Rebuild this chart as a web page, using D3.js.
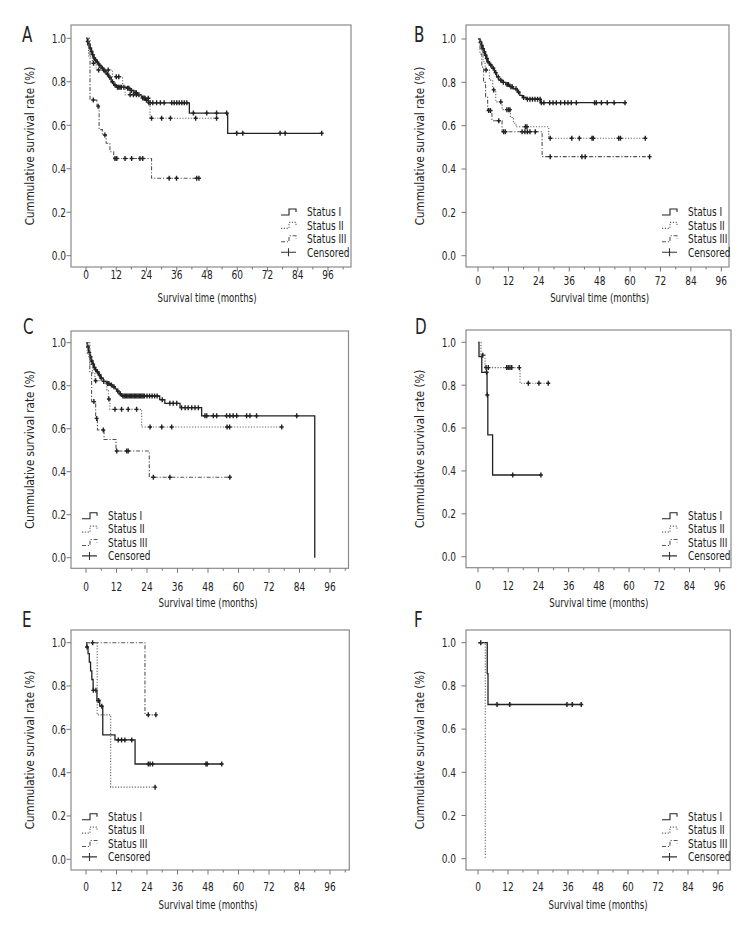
<!DOCTYPE html>
<html>
<head>
<meta charset="utf-8">
<script src="https://cdn.jsdelivr.net/npm/d3@7"></script>
<style>
  html, body { margin: 0; padding: 0; background: #fff; }
  svg { display: block; }
  text { font-family: "DejaVu Sans Condensed", "Liberation Sans", sans-serif; fill: #222; }
</style>
</head>
<body>
<script>
// ---- axis ticks & labels ----
const xTicks = [0, 12, 24, 36, 48, 60, 72, 84, 96]
const xMinor = [6, 18, 30, 42, 54, 66, 78, 90, 102]
const yTicks = [0, 0.2, 0.4, 0.6, 0.8, 1.0]
const legendLabels = ['Status I', 'Status II', 'Status III', 'Censored']
const xTitle = 'Survival time (months)'
const yTitle = 'Cummulative survival rate (%)'

// ---- data: [time (months), survival after drop], censored times ----
// A
const A1_steps = [[0.5, 0.985], [1.0, 0.97], [1.5, 0.955], [2.0, 0.94], [2.5, 0.925], [3.0, 0.91], [3.5, 0.9], [4.2, 0.89], [5.0, 0.875], [6.0, 0.862], [7.0, 0.85], [8.0, 0.835], [9.0, 0.82], [10.0, 0.8], [11.0, 0.785], [12.0, 0.775], [16.0, 0.77], [17.5, 0.76], [19.0, 0.75], [20.5, 0.74], [22.0, 0.725], [23.5, 0.715], [24.7, 0.703], [41.0, 0.656], [56.2, 0.563]]
const A1_cens = [0.7, 1.2, 1.7, 2.2, 2.7, 3.2, 3.8, 4.5, 5.5, 6.5, 7.5, 8.5, 9.5, 10.5, 11.5, 12.5, 13, 13.5, 14, 15, 16.5, 17, 18, 19.5, 20, 21, 22.5, 23, 24, 25, 25.5, 26.5, 28, 29.5, 31, 34, 35, 36, 37, 38, 39, 40, 42.6, 47.9, 51.8, 55.8, 59.8, 62.2, 77, 79, 93.5]
const A2_steps = [[1.0, 0.915], [2.5, 0.885], [4.0, 0.854], [10.5, 0.823], [14.5, 0.78], [15.5, 0.74], [22.0, 0.724], [25.4, 0.632]]
const A2_cens = [3, 5, 7, 8.8, 12, 13, 17.5, 18.8, 20, 23.4, 24.7, 26, 30, 33.5, 43.5, 51.8]
const A3_steps = [[1.6, 0.716], [4.3, 0.688], [5.2, 0.58], [6.5, 0.555], [8.0, 0.517], [9.5, 0.478], [11.0, 0.447], [26.0, 0.356]]
const A3_cens = [2.9, 4.8, 7.5, 11.5, 12.2, 15.5, 18.1, 21.4, 22.5, 33, 35.9, 43.9, 44.8]
// B
const B1_steps = [[0.8, 0.985], [1.3, 0.97], [1.8, 0.955], [2.3, 0.94], [2.8, 0.925], [3.3, 0.91], [3.8, 0.895], [4.5, 0.88], [5.5, 0.865], [6.5, 0.845], [7.3, 0.825], [8.2, 0.81], [9.5, 0.8], [11, 0.79], [12.5, 0.78], [14, 0.77], [15.5, 0.755], [16.5, 0.74], [17.5, 0.73], [19, 0.722], [24.6, 0.706]]
const B1_cens = [1, 1.5, 2, 2.5, 3, 3.5, 4, 5, 6, 7, 8, 9, 10, 11.5, 12, 13, 13.5, 15, 16, 18, 19.5, 20.5, 21.5, 22.5, 23.5, 24.5, 25, 26, 28.3, 29.6, 30.9, 32.6, 34.2, 35.5, 36.8, 38.8, 46, 46.7, 48.7, 51, 53.7, 58]
const B2_steps = [[1.0, 0.95], [2.0, 0.895], [2.8, 0.857], [4.5, 0.81], [5.8, 0.765], [7.0, 0.71], [9.5, 0.674], [12.8, 0.638], [14.0, 0.611], [15.0, 0.595], [27.9, 0.542]]
const B2_cens = [3.2, 6.2, 9.0, 11.4, 12.1, 12.6, 18.7, 19.3, 28.5, 37, 40, 45, 45.5, 55.5, 56.2, 66]
const B3_steps = [[0.8, 0.93], [1.5, 0.87], [2.2, 0.8], [3.0, 0.734], [3.8, 0.67], [5.5, 0.623], [9.5, 0.572], [25.3, 0.457]]
const B3_cens = [4.2, 4.9, 8.2, 10.1, 10.8, 17.4, 18.5, 19.5, 20.5, 22.6, 28.5, 41, 42.3, 67.7]
// C
const C1_steps = [[0.5, 0.98], [1.0, 0.955], [1.5, 0.935], [2.0, 0.915], [2.5, 0.9], [3.0, 0.885], [3.5, 0.875], [4.2, 0.865], [5.0, 0.85], [5.8, 0.835], [6.8, 0.82], [8.0, 0.81], [9.4, 0.803], [10.5, 0.795], [11.5, 0.785], [12.1, 0.775], [13.0, 0.762], [14.0, 0.752], [29.0, 0.735], [31.0, 0.718], [37.0, 0.698], [45.5, 0.66], [90.0, 0.0]]
const C1_cens = [0.8, 1.3, 1.8, 2.3, 2.8, 3.3, 3.8, 4.5, 5.3, 6, 7, 8.5, 9, 10, 11, 12.5, 13.5, 14.5, 15, 15.5, 16, 16.5, 17, 17.5, 18, 18.5, 19, 19.5, 20, 20.5, 21, 21.5, 22, 22.5, 23, 24, 25, 26, 27, 28, 30, 33, 34.3, 35.7, 37.6, 39, 40.2, 41.6, 42.9, 44.2, 46.8, 47.5, 50.1, 51.4, 55.3, 56.6, 57.9, 59.3, 63.2, 64.5, 67.1, 82.9]
const C2_steps = [[0.5, 0.95], [1.5, 0.9], [2.5, 0.86], [3.5, 0.823], [8.2, 0.78], [8.8, 0.738], [9.4, 0.69], [21.9, 0.608]]
const C2_cens = [3.8, 9.0, 11.4, 14, 16.6, 19.9, 25.2, 29.8, 33.7, 55.5, 56.5, 77]
const C3_steps = [[1.5, 0.86], [2.2, 0.726], [3.8, 0.648], [4.5, 0.594], [7.1, 0.55], [11.8, 0.496], [24.9, 0.374]]
const C3_cens = [3.1, 4.2, 6.8, 12.1, 16, 16.6, 26.5, 33, 56.6]
// D
const D1_steps = [[0.4, 0.933], [1.5, 0.86], [3.6, 0.754], [3.9, 0.568], [5.8, 0.381]]
const D1_cens = [3.4, 3.7, 13.8, 25]
const D2_steps = [[1.2, 0.94], [2.8, 0.882], [16.7, 0.809]]
const D2_cens = [1.9, 3.2, 4.1, 11.4, 12.0, 12.7, 13.4, 16.4, 20, 24.2, 27.9]
// E
const E1_steps = [[0.3, 0.98], [0.8, 0.95], [1.3, 0.91], [1.8, 0.87], [2.3, 0.83], [2.8, 0.78], [4.3, 0.733], [5.4, 0.707], [6.6, 0.574], [11.4, 0.551], [19.3, 0.44]]
const E1_cens = [0.4, 2.9, 3.9, 4.8, 5.0, 6.2, 12.7, 14, 15.3, 18, 24.5, 25.2, 26.2, 47.2, 47.7, 53.4]
const E2_steps = [[4.4, 0.667], [9.7, 0.333]]
const E2_cens = [27.2]
const E3_steps = [[23.2, 0.667]]
const E3_cens = [2.6, 24.5, 27.5]
// F
const F1_steps = [[3.7, 0.857], [4.0, 0.714]]
const F1_cens = [1.1, 7.6, 12.7, 35.6, 37.7, 41.3]
const F2_steps = [[2.9, 0.0]]
const F2_cens = []

// ---- line styles for Status I, II, III ----
const styles = [
  { stroke: '#222', width: 1.3, dash: null },
  { stroke: '#666', width: 1.1, dash: '1.2,1.6' },
  { stroke: '#555', width: 1.1, dash: '4,1.8,1.2,1.8' }
]

// ---- panel layout ----
const panels = [
  { letter: 'A', lx: 22, ly: 42, frame: [71, 25, 351, 267], xr: [86, 328], yr: [255.7, 38.3], tlx: 66, ytx: 29.5, xly: 279, xty: 302,
    leg: [281, 212], series: [[A1_steps, A1_cens], [A2_steps, A2_cens], [A3_steps, A3_cens]] },
  { letter: 'B', lx: 414, ly: 42, frame: [466, 25, 729, 267], xr: [478, 721.3], yr: [255.7, 39], tlx: 456, ytx: 420, xly: 285, xty: 301.5,
    leg: [662, 212], series: [[B1_steps, B1_cens], [B2_steps, B2_cens], [B3_steps, B3_cens]] },
  { letter: 'C', lx: 23, ly: 334, frame: [71, 331, 348.5, 568.3], xr: [86, 330], yr: [557.7, 342.7], tlx: 66, ytx: 29.5, xly: 590.5, xty: 607,
    leg: [82, 515.7], series: [[C1_steps, C1_cens], [C2_steps, C2_cens], [C3_steps, C3_cens]] },
  { letter: 'D', lx: 415, ly: 334, frame: [466, 330, 731, 567.7], xr: [478, 719.7], yr: [556.7, 342.3], tlx: 456, ytx: 420, xly: 590, xty: 607,
    leg: [662, 515.7], series: [[D1_steps, D1_cens], [D2_steps, D2_cens]] },
  { letter: 'E', lx: 22, ly: 627, frame: [71, 630, 349.3, 870], xr: [86, 330], yr: [859.3, 642.7], tlx: 66, ytx: 29.5, xly: 890.5, xty: 909,
    leg: [82, 816.7], series: [[E1_steps, E1_cens], [E2_steps, E2_cens], [E3_steps, E3_cens]] },
  { letter: 'F', lx: 414, ly: 627, frame: [466, 630, 730.3, 870], xr: [478, 718], yr: [858.7, 642.7], tlx: 456, ytx: 420, xly: 890.5, xty: 909,
    leg: [662, 816.7], series: [[F1_steps, F1_cens], [F2_steps, F2_cens]] }
]

// horizontal text in the source is squeezed; vertical text is not
const SX = 0.8

const svg = d3.select('body').append('svg')
  .attr('width', 756)
  .attr('height', 936)

// survival value of a step curve at time t
function survAt(steps, t) {
  let s = 1
  for (const [ti, si] of steps) if (t >= ti) s = si
  return s
}

// squeezed text helper
function label(g, x, y, str, size, anchor, dy) {
  return g.append('text')
    .attr('transform', `translate(${x},${y}) scale(${SX},1)`)
    .attr('dy', dy || null)
    .attr('text-anchor', anchor || 'start')
    .attr('font-size', size)
    .text(str)
}

const line = d3.line().curve(d3.curveStepAfter)

panels.forEach(p => {
  const g = svg.append('g')
  const x = d3.scaleLinear().domain([0, 96]).range(p.xr)
  const y = d3.scaleLinear().domain([0, 1]).range(p.yr)
  const [fx0, fy0, fx1, fy1] = p.frame

  // panel letter
  label(g, p.lx, p.ly, p.letter, 21, 'start')

  // frame
  g.append('rect')
    .attr('x', fx0).attr('y', fy0)
    .attr('width', fx1 - fx0).attr('height', fy1 - fy0)
    .attr('fill', 'none')
    .attr('stroke', '#8a8a8a')
    .attr('stroke-width', 1.2)

  // x ticks
  g.selectAll('.xt').data(xTicks).join('line')
    .attr('x1', d => x(d)).attr('x2', d => x(d))
    .attr('y1', fy1).attr('y2', fy1 + 4.5)
    .attr('stroke', '#777').attr('stroke-width', 1)
  g.selectAll('.xm').data(xMinor.filter(d => x(d) < fx1 - 1)).join('line')
    .attr('x1', d => x(d)).attr('x2', d => x(d))
    .attr('y1', fy1).attr('y2', fy1 + 2.5)
    .attr('stroke', '#777').attr('stroke-width', 1)
  xTicks.forEach(d => label(g, x(d), p.xly, d, 12.5, 'middle'))

  // y ticks
  g.selectAll('.yt').data(yTicks).join('line')
    .attr('x1', fx0 - 4.5).attr('x2', fx0)
    .attr('y1', d => y(d)).attr('y2', d => y(d))
    .attr('stroke', '#777').attr('stroke-width', 1)
  yTicks.forEach(d => label(g, p.tlx, y(d), d3.format('.1f')(d), 12.5, 'end', '0.35em'))

  // axis titles
  label(g, (p.xr[0] + p.xr[1]) / 2, p.xty, xTitle, 12, 'middle')
  g.append('text')
    .attr('transform', `translate(${p.ytx},${(fy0 + fy1) / 2}) rotate(-90)`)
    .attr('dy', '0.35em')
    .attr('text-anchor', 'middle')
    .attr('font-size', 11.5)
    .text(yTitle)

  // curves
  p.series.forEach(([steps, cens], i) => {
    const st = styles[i]
    const end = Math.max(steps.length ? steps[steps.length - 1][0] : 0, cens.length ? d3.max(cens) : 0)
    const pts = [[0, 1], ...steps, [end, steps.length ? steps[steps.length - 1][1] : 1]]
    g.append('path')
      .attr('d', line(pts.map(d => [x(d[0]), y(d[1])])))
      .attr('fill', 'none')
      .attr('stroke', st.stroke)
      .attr('stroke-width', st.width)
      .attr('stroke-dasharray', st.dash)

    g.selectAll(null).data(cens).join('path')
      .attr('d', t => {
        const cx = x(t), cy = y(survAt(steps, t))
        return `M${cx},${cy - 2.5}V${cy + 2.5}M${cx - 2},${cy}H${cx + 2}`
      })
      .attr('fill', 'none')
      .attr('stroke', '#222')
      .attr('stroke-width', 1.4)
  })

  // legend
  const [lx, ly] = p.leg
  const rowH = 13.4
  legendLabels.forEach((lab, i) => {
    const cy = ly + i * rowH
    if (i < 3) {
      const st = styles[i]
      g.append('path')
        .attr('d', `M${lx},${cy + 3}H${lx + 8}V${cy - 3}H${lx + 15}V${cy}`)
        .attr('fill', 'none')
        .attr('stroke', st.stroke)
        .attr('stroke-width', 1.1)
        .attr('stroke-dasharray', st.dash)
    } else {
      g.append('path')
        .attr('d', `M${lx},${cy}H${lx + 15}M${lx + 7.5},${cy - 4}V${cy + 4}`)
        .attr('fill', 'none')
        .attr('stroke', '#333')
        .attr('stroke-width', 1.1)
    }
    label(g, lx + 26, cy, lab, 12.5, 'start', '0.35em')
  })
})
</script>
</body>
</html>
